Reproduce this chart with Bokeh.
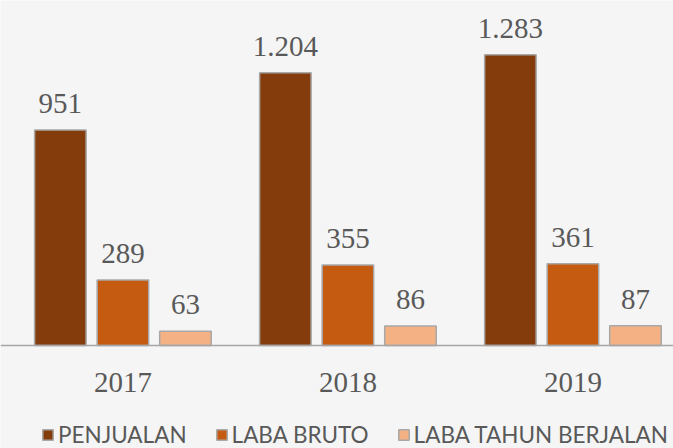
from bokeh.plotting import figure
from bokeh.models import (ColumnDataSource, LabelSet, Legend, LegendItem, Range1d, Span)
from bokeh.transform import dodge
from bokeh.embed import file_html
from bokeh.resources import INLINE

# ---- data ----
years = ["2017", "2018", "2019"]
penjualan = [951, 1204, 1283]
laba_bruto = [289, 355, 361]
laba_tahun_berjalan = [63, 86, 87]
series_names = ["PENJUALAN", "LABA BRUTO", "LABA TAHUN BERJALAN"]
series_colors = ["#843C0C", "#C55A11", "#F4B183"]


def fmt(v):
    return f"{v:,}".replace(",", ".")


xs = list(range(len(years)))
src = ColumnDataSource(dict(
    x=xs, year=years, zero=[0] * len(years),
    p=penjualan, b=laba_bruto, t=laba_tahun_berjalan,
    pl=[fmt(v) for v in penjualan],
    bl=[fmt(v) for v in laba_bruto],
    tl=[fmt(v) for v in laba_tahun_berjalan],
))

FONT = "Lato"
TXT = "#595959"
BG = "#F5F5F5"

p = figure(width=673, height=448, output_backend="svg", toolbar_location=None,
           x_range=Range1d(-0.544, 2.447), y_range=Range1d(-455, 1523),
           x_axis_location=None, y_axis_location=None,
           min_border=0)
p.background_fill_color = BG
p.border_fill_color = BG
p.outline_line_color = None
p.grid.visible = False

# baseline (category axis line)
p.add_layout(Span(location=0, dimension="width", line_color="#A6A6A6", line_width=1.5))

off = 0.278
w = 0.229
fields = ["p", "b", "t"]
lfields = ["pl", "bl", "tl"]
renderers = []
for i, (f, lf, c) in enumerate(zip(fields, lfields, series_colors)):
    o = (i - 1) * off
    r = p.vbar(x=dodge("x", o, range=p.x_range), top=f, width=w, bottom=0,
               source=src, fill_color=c, line_color="#A8A8A8", line_width=1.5)
    renderers.append(r)
    p.add_layout(LabelSet(x=dodge("x", o, range=p.x_range), y=f, text=lf, source=src,
                          text_align="center", text_baseline="alphabetic", y_offset=17,
                          text_font=FONT, text_font_size="29px", text_color=TXT))

# category labels (years) under the baseline
p.add_layout(LabelSet(x="x", y="zero", text="year", source=src,
                      text_align="center", text_baseline="top", y_offset=-28,
                      text_font=FONT, text_font_size="29px", text_color=TXT))

legend = Legend(items=[LegendItem(label=n, renderers=[r]) for n, r in zip(series_names, renderers)],
                orientation="horizontal", location=(41, 0),
                glyph_width=13, glyph_height=13, label_standoff=4, spacing=28,
                padding=0, margin=0,
                label_text_font=FONT, label_text_font_size="22.5px", label_text_color=TXT,
                background_fill_alpha=0, border_line_color=None)
p.add_layout(legend, "center")

open("out.html", "w").write(file_html(p, INLINE))
